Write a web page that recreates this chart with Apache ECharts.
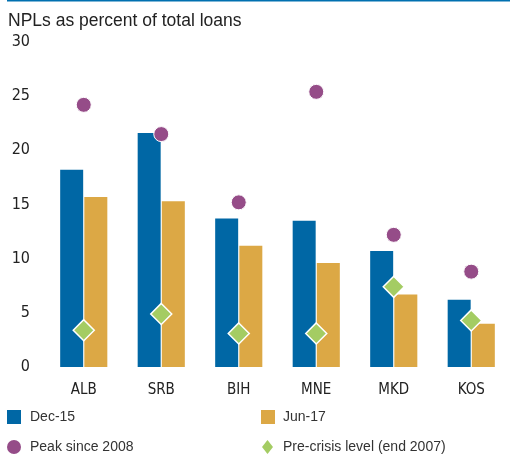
<!DOCTYPE html>
<html>
<head>
<meta charset="utf-8">
<script src="https://cdn.jsdelivr.net/npm/echarts@6/dist/echarts.min.js"></script>
<style>
  html, body { margin: 0; padding: 0; background: #fff; }
  #chart { width: 510px; height: 455px; }
</style>
</head>
<body>
<div id="chart"></div>
<script>
// NPL ratios by country (percent of total loans)
const countries = ['ALB', 'SRB', 'BIH', 'MNE', 'MKD', 'KOS'];
const dec15 = [18.2, 21.6, 13.7, 13.5, 10.7, 6.2];
const jun17 = [15.7, 15.3, 11.2, 9.6, 6.7, 4.0];
const peakSince2008 = [24.2, 21.5, 15.2, 25.4, 12.2, 8.8];
const preCrisis2007 = [3.4, 4.9, 3.1, 3.1, 7.4, 4.3];

const BLUE = '#0067A5';
const GOLD = '#DCA845';
const PURPLE = '#954C88';
const GREEN = '#A4CC63';
const narrow = '"DejaVu Sans Condensed", "Liberation Sans Narrow", "Arial Narrow", sans-serif';
const regular = '"Liberation Sans", Arial, sans-serif';

const chart = echarts.init(document.getElementById('chart'), null, { renderer: 'canvas' });

const legendText = { fontFamily: regular, fontSize: 14, color: '#333' };

chart.setOption({
  animation: false,
  backgroundColor: '#fff',
  title: {
    text: 'NPLs as percent of total loans',
    left: 3,
    top: 7,
    textStyle: { fontFamily: regular, fontSize: 17.5, fontWeight: 'normal', color: '#222' }
  },
  graphic: [{
    type: 'rect',
    shape: { x: 7, y: 0, width: 503, height: 1.5 },
    style: { fill: '#0070B0' }
  }],
  legend: [
    { data: ['Dec-15'], left: 2, top: 405, icon: 'rect', itemWidth: 14, itemHeight: 14,
      textStyle: Object.assign({ padding: [0, 0, 0, 4] }, legendText) },
    { data: ['Jun-17'], left: 256, top: 405, icon: 'rect', itemWidth: 14, itemHeight: 14,
      textStyle: Object.assign({ padding: [0, 0, 0, 3] }, legendText) },
    { data: ['Peak since 2008'], left: 2, top: 435, icon: 'circle', itemWidth: 14, itemHeight: 14,
      itemStyle: { borderWidth: 0 },
      textStyle: Object.assign({ padding: [0, 0, 0, 4] }, legendText) },
    { data: ['Pre-crisis level (end 2007)'], left: 257, top: 435, icon: 'diamond', itemWidth: 11, itemHeight: 14,
      itemStyle: { borderWidth: 0 },
      textStyle: Object.assign({ padding: [0, 0, 0, 5] }, legendText) }
  ],
  grid: { left: 45, top: 42, width: 468, height: 325, containLabel: false },
  xAxis: {
    type: 'category',
    data: countries,
    axisLine: { show: false },
    axisTick: { show: false },
    axisLabel: { fontFamily: narrow, fontSize: 15, color: '#222', margin: 16 }
  },
  yAxis: {
    type: 'value',
    min: 0, max: 30, interval: 5,
    axisLine: { show: false },
    axisTick: { show: false },
    splitLine: { show: false },
    axisLabel: { fontFamily: narrow, fontSize: 16, color: '#222', margin: 15 }
  },
  series: [
    { name: 'Dec-15', type: 'bar', data: dec15, barWidth: 23, barGap: '5%',
      itemStyle: { color: BLUE } },
    { name: 'Jun-17', type: 'bar', data: jun17, barWidth: 23, barGap: '5%',
      itemStyle: { color: GOLD } },
    { name: 'Peak since 2008', type: 'scatter', data: peakSince2008, symbol: 'circle', symbolSize: 15, z: 5,
      itemStyle: { color: PURPLE, borderColor: '#fff', borderWidth: 1, opacity: 1 } },
    { name: 'Pre-crisis level (end 2007)', type: 'scatter', data: preCrisis2007, symbol: 'diamond', symbolSize: 21, z: 6,
      itemStyle: { color: GREEN, borderColor: '#fff', borderWidth: 1.5, opacity: 1 } }
  ]
});
</script>
</body>
</html>
